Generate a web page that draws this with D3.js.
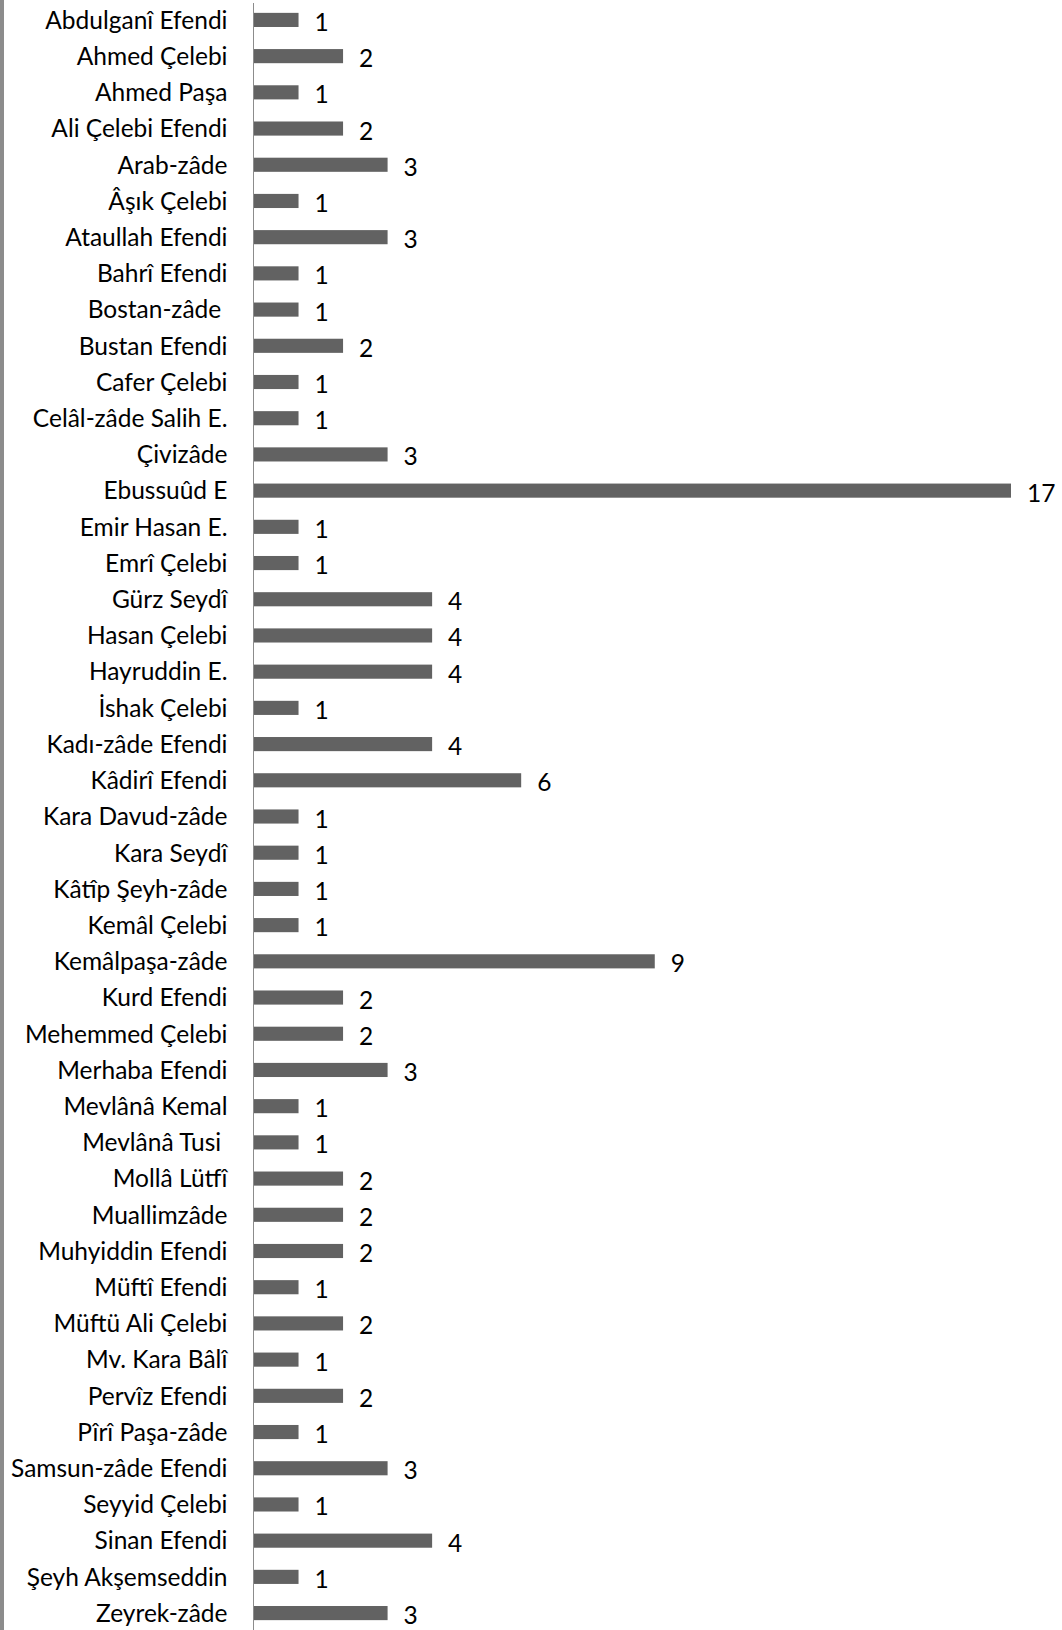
<!DOCTYPE html>
<html>
<head>
<meta charset="utf-8">
<script src="https://cdn.jsdelivr.net/npm/d3@7"></script>
<style>
  body { margin: 0; background: #fff; }
  svg { display: block; }
</style>
</head>
<body>
<div id="chart"></div>
<script>
// chart data
const names = ["Abdulganî Efendi", "Ahmed Çelebi", "Ahmed Paşa", "Ali Çelebi Efendi", "Arab-zâde",
  "Âşık Çelebi", "Ataullah Efendi", "Bahrî Efendi", "Bostan-zâde ", "Bustan Efendi",
  "Cafer Çelebi", "Celâl-zâde Salih E.", "Çivizâde", "Ebussuûd E", "Emir Hasan E.",
  "Emrî Çelebi", "Gürz Seydî", "Hasan Çelebi", "Hayruddin E.", "İshak Çelebi",
  "Kadı-zâde Efendi", "Kâdirî Efendi", "Kara Davud-zâde", "Kara Seydî", "Kâtîp Şeyh-zâde",
  "Kemâl Çelebi", "Kemâlpaşa-zâde", "Kurd Efendi", "Mehemmed Çelebi", "Merhaba Efendi",
  "Mevlânâ Kemal", "Mevlânâ Tusi ", "Mollâ Lütfî", "Muallimzâde", "Muhyiddin Efendi",
  "Müftî Efendi", "Müftü Ali Çelebi", "Mv. Kara Bâlî", "Pervîz Efendi", "Pîrî Paşa-zâde",
  "Samsun-zâde Efendi", "Seyyid Çelebi", "Sinan Efendi", "Şeyh Akşemseddin", "Zeyrek-zâde"];
const counts = [1, 2, 1, 2, 3, 1, 3, 1, 1, 2,
  1, 1, 3, 17, 1, 1, 4, 4, 4, 1,
  4, 6, 1, 1, 1, 1, 9, 2, 2, 3,
  1, 1, 2, 2, 2, 1, 2, 1, 2, 1,
  3, 1, 4, 1, 3];

const W = 1062, H = 1630;
const data = names.map((n, i) => ({ name: n, value: counts[i] }));

const svg = d3.select("#chart")
    .append("svg")
    .attr("width", W)
    .attr("height", H);

// grey strip at the left edge
svg.append("rect")
    .attr("x", 0).attr("y", 0)
    .attr("width", 4).attr("height", H)
    .attr("fill", "#8c8c8c");

const x = d3.scaleLinear()
    .domain([0, 17])
    .range([254, 1011]);

const y = d3.scaleBand()
    .domain(names)
    .range([2, 1631])
    .paddingInner(0.61)
    .paddingOuter(0.3);

// bars
svg.selectAll("rect.bar")
    .data(data)
    .enter()
    .append("rect")
    .attr("class", "bar")
    .attr("x", x(0))
    .attr("y", d => y(d.name))
    .attr("width", d => x(d.value) - x(0))
    .attr("height", y.bandwidth())
    .attr("fill", "#626262");

// category axis
const axis = svg.append("g")
    .attr("transform", `translate(${x(0) - 0.5},0)`)
    .call(d3.axisLeft(y).tickSize(0).tickPadding(26));

axis.select(".domain")
    .attr("d", `M0,3V${H}`)
    .attr("stroke", "#8c8c8c");

// keep trailing spaces of some names, as in the original
axis.selectAll("text")
    .attr("font-family", "Lato, sans-serif")
    .attr("font-size", "24.5px")
    .attr("fill", "#000")
    .attr("dy", "0.36em")
    .style("white-space", "pre");

// value labels
svg.selectAll("text.val")
    .data(data)
    .enter()
    .append("text")
    .attr("class", "val")
    .attr("x", d => x(d.value) + 16)
    .attr("y", d => y(d.name) + y.bandwidth() / 2)
    .attr("dy", "0.45em")
    .attr("font-family", "Lato, sans-serif")
    .attr("font-size", "24.5px")
    .attr("fill", "#000")
    .text(d => d.value);
</script>
</body>
</html>
